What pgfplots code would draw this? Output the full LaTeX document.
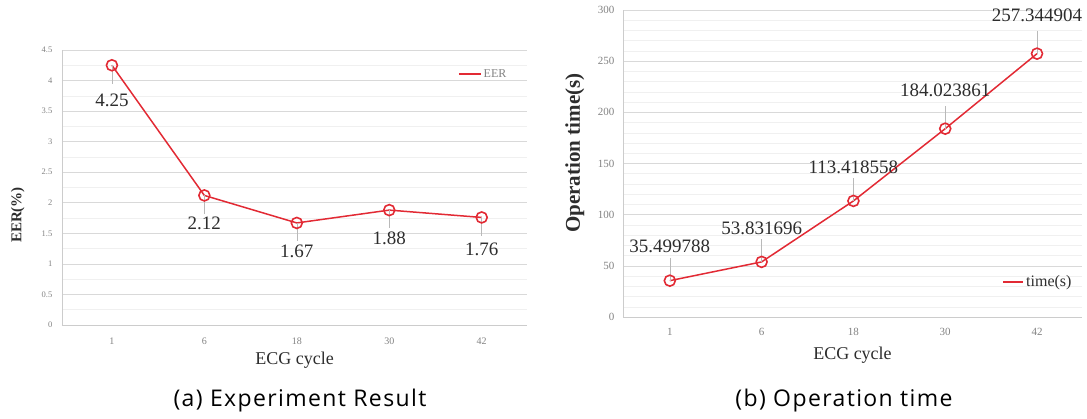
\documentclass[border=0pt]{standalone}
\usepackage{pgfplots}
\usepackage{pgfplotstable}
\pgfplotsset{compat=1.18}
\usepackage{fontspec}
\setmainfont{Liberation Serif}
\newfontfamily\capfont{Open Sans}[LetterSpace=6]
\definecolor{lred}{RGB}{226,42,52}
\definecolor{txt}{RGB}{45,45,45}
\definecolor{tick}{RGB}{130,130,130}

\pgfplotstableread{
x y
0 4.25
1 2.12
2 1.67
3 1.88
4 1.76
}\eertab

\pgfplotstableread{
x y
0 35.499788
1 53.831696
2 113.418558
3 184.023861
4 257.344904
}\timetab

\pgfplotsset{
  common/.style={
    scale only axis,
    xtick={0,1,2,3,4}, xticklabels={1,6,18,30,42},
    ymajorgrids, yminorgrids,
    major grid style={gray!30, line width=0.6pt},
    minor grid style={gray!12, line width=0.5pt},
    axis lines=left, axis line style={-, draw=gray!40},
    tick style={draw=none},
    /pgf/number format/assume math mode=true,
    clip=false,
  },
  lab/.style={draw=none, mark=none, forget plot, point meta=explicit symbolic,
    nodes near coords,
    every node near coord/.append style={anchor=center, yshift=#1, font=\fontsize{19}{21}\selectfont, text=txt, inner sep=0pt}},
}

\begin{document}
\begin{tikzpicture}
\path[use as bounding box] (0pt,0pt) rectangle (1087pt,419pt);
% ---------- left chart
\begin{axis}[common, name=L,
  anchor=south west, at={(62pt,94pt)}, width=465pt, height=275pt,
  xmin=-0.54, xmax=4.49, ymin=0, ymax=4.5,
  ytick={0,0.5,1,1.5,2,2.5,3,3.5,4,4.5},
  minor y tick num=1,
  xticklabel style={font=\fontsize{10}{12}\selectfont, text=tick, yshift=-7pt},
  yticklabel style={font=\fontsize{8.5}{10}\selectfont, text=tick, xshift=-4pt},
  xlabel={ECG cycle},
  xlabel style={at={(axis description cs:0.5,-0.127)}, anchor=center, font=\fontsize{18}{20}\selectfont, text=txt},
  ylabel={\textbf{EER(\%)}},
  ylabel style={at={(axis description cs:-0.095,0.4)}, anchor=center, font=\fontsize{15}{17}\selectfont, text=txt},
  legend style={draw=none, fill=none, at={(axis description cs:0.845,0.913)}, anchor=west, font=\fontsize{12}{14}\selectfont, text=tick},
  legend image code/.code={\draw[lred, line width=1.6pt] (0,0) -- (22pt,0);},
]
\addplot[lred, line width=1.5pt, mark=o, mark size=5.5pt, mark options={line width=1.6pt},
  error bars/y dir=minus, error bars/y fixed=0.3, error bars/error mark=none,
  error bars/error bar style={gray!55, line width=0.6pt},
] table[x=x, y=y] {\eertab};
\addlegendentry{EER}
\addplot[lab=-35pt] coordinates {(0,4.25) [4.25]};
\addplot[lab=-28pt] coordinates {(1,2.12) [2.12] (2,1.67) [1.67] (3,1.88) [1.88]};
\addplot[lab=-32pt] coordinates {(4,1.76) [1.76]};
\end{axis}
% ---------- right chart
\begin{axis}[common, name=R,
  anchor=south west, at={(623pt,102pt)}, width=459pt, height=307pt,
  xmin=-0.51, xmax=4.49, ymin=0, ymax=300,
  ytick={0,50,100,150,200,250,300},
  minor y tick num=4,
  xticklabel style={font=\fontsize{11}{12}\selectfont, text=tick, yshift=-6pt},
  yticklabel style={font=\fontsize{11}{12}\selectfont, text=tick, xshift=-3pt},
  xlabel={ECG cycle},
  xlabel style={at={(axis description cs:0.5,-0.124)}, anchor=center, font=\fontsize{18}{20}\selectfont, text=txt},
  ylabel={\textbf{Operation time(s)}},
  ylabel style={at={(axis description cs:-0.105,0.534)}, anchor=center, font=\fontsize{21}{23}\selectfont, text=txt},
  legend style={draw=none, fill=none, at={(axis description cs:0.82,0.114)}, anchor=west, font=\fontsize{16}{18}\selectfont, text=txt},
  legend image code/.code={\draw[lred, line width=1.6pt] (0,0) -- (20pt,0);},
]
\addplot[lred, line width=1.5pt, mark=o, mark size=5.5pt, mark options={line width=1.6pt},
  error bars/y dir=plus, error bars/y fixed=22, error bars/error mark=none,
  error bars/error bar style={gray!55, line width=0.6pt},
] table[x=x, y=y] {\timetab};
\addlegendentry{time(s)}
\addplot[lab=34pt] coordinates {(0,35.499788) [35.499788] (1,53.831696) [53.831696] (2,113.418558) [113.418558]};
\addplot[lab=38pt] coordinates {(3,184.023861) [184.023861] (4,257.344904) [257.344904]};
\end{axis}
\node[font=\capfont\fontsize{23}{26}\selectfont, text=black] at (300pt,18pt) {(a) Experiment Result};
\node[font=\capfont\fontsize{23}{26}\selectfont, text=black] at (844pt,18pt) {(b) Operation time};
\end{tikzpicture}
\end{document}
